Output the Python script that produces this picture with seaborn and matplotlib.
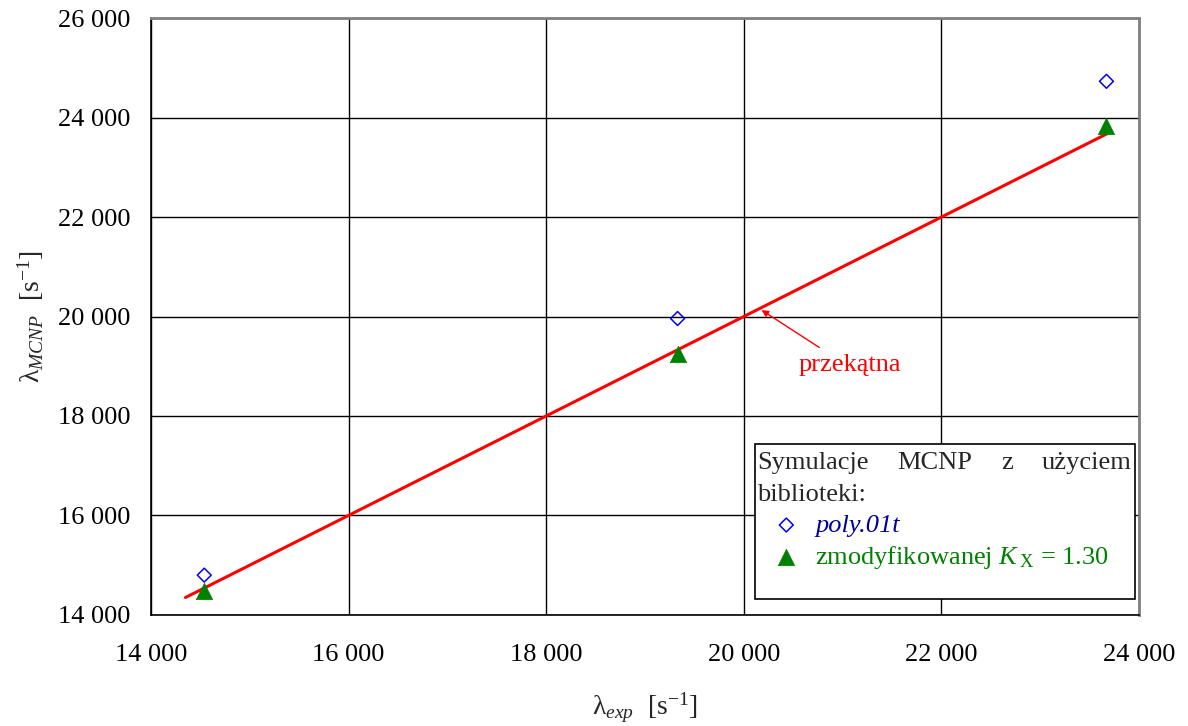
import matplotlib
matplotlib.use("Agg")
import matplotlib.pyplot as plt
import matplotlib.ticker as mticker
from matplotlib.patches import Rectangle
import pandas as pd
import seaborn as sns

# Measured vs simulated decay constants [1/s]
lam_exp = [14540, 19330, 23670]
lam_poly = [14800, 19960, 24730]
lam_mod = [14490, 19240, 23840]
diag = [14350, 23700]

x_ticks = [14000, 16000, 18000, 20000, 22000, 24000]
y_ticks = [14000, 16000, 18000, 20000, 22000, 24000, 26000]

sns.set_theme(style="white")
plt.rcParams["font.family"] = ["Liberation Serif", "DejaVu Serif"]
plt.rcParams["mathtext.fontset"] = "custom"
plt.rcParams["mathtext.rm"] = "Liberation Serif"
plt.rcParams["mathtext.it"] = "Liberation Serif:italic"
plt.rcParams["mathtext.bf"] = "Liberation Serif:bold"

fig = plt.figure(figsize=(11.88, 7.26), dpi=100)
ax = fig.add_axes([0.127, 0.153, 0.8318, 0.822])

df_poly = pd.DataFrame({"x": lam_exp, "y": lam_poly})
df_mod = pd.DataFrame({"x": lam_exp, "y": lam_mod})
df_diag = pd.DataFrame({"x": diag, "y": diag})

sns.lineplot(data=df_diag, x="x", y="y", color="#ff0000", lw=2.2, ax=ax, zorder=3)
sns.scatterplot(data=df_poly, x="x", y="y", marker="D", s=50, facecolor="none",
                edgecolor="#0000ff", linewidth=1.1, ax=ax, zorder=4,
                label="poly.01t")
sns.scatterplot(data=df_mod, x="x", y="y", marker="^", s=140, color="#008000",
                edgecolor="#008000", linewidth=0.5, ax=ax, zorder=4,
                label=r"zmodyfikowanej $K\,_{\mathrm{X}}$ = 1.30")

ax.set_xlim(14000, 24000)
ax.set_ylim(14000, 26000)
ax.set_xticks(x_ticks)
ax.set_yticks(y_ticks)
fmt = mticker.FuncFormatter(lambda v, p: f"{v:,.0f}".replace(",", " "))
ax.xaxis.set_major_formatter(fmt)
ax.yaxis.set_major_formatter(fmt)
ax.tick_params(axis="both", direction="out", length=7, width=1, colors="black",
               labelsize=19, pad=8)
ax.tick_params(axis="x", pad=14)

ax.grid(True, color="black", lw=1, zorder=0)
ax.set_axisbelow(True)
for side in ("left", "bottom"):
    ax.spines[side].set_color("black")
    ax.spines[side].set_linewidth(1.2)
for side in ("top", "right"):
    ax.spines[side].set_color("#808080")
    ax.spines[side].set_linewidth(2)

ax.set_xlabel(r"λ$_{exp}$  [s$^{-1}$]", fontsize=20, labelpad=18)
ax.set_ylabel(r"λ$_{MCNP}$  [s$^{-1}$]", fontsize=20, labelpad=8)

ax.annotate("przekątna", xy=(20180, 20130), xytext=(21070, 19030),
            color="#ff0000", fontsize=19, ha="center", va="center",
            arrowprops=dict(arrowstyle="-|>", color="#ff0000", lw=1,
                            mutation_scale=10, shrinkA=4, shrinkB=0,
                            relpos=(0.3, 1.0)))

# Legend frame with justified heading
box = Rectangle((0.611, 0.027), 0.385, 0.259, transform=ax.transAxes,
                facecolor="white", edgecolor="black", lw=1.2, zorder=5)
ax.add_patch(box)
head_y = 0.254
for word, xpos in [("Symulacje", 0.6135), ("MCNP", 0.755), ("z", 0.861),
                   ("użyciem", 0.9925)]:
    ha = "right" if word == "użyciem" else "left"
    ax.text(xpos, head_y, word, transform=ax.transAxes, fontsize=19,
            ha=ha, va="center", zorder=6)
ax.text(0.6135, 0.201, "biblioteki:", transform=ax.transAxes, fontsize=19,
        ha="left", va="center", zorder=6)

leg = ax.legend(loc="upper left", bbox_to_anchor=(0.627, 0.17), frameon=False,
                fontsize=19, handletextpad=0.5, labelspacing=0.25,
                handlelength=1.2, borderaxespad=0, borderpad=0)
leg.set_zorder(7)
for txt, col, style in zip(leg.get_texts(), ["#000099", "#008000"],
                           ["italic", "normal"]):
    txt.set_color(col)
    txt.set_fontstyle(style)

fig.savefig("out.png", dpi=100)
